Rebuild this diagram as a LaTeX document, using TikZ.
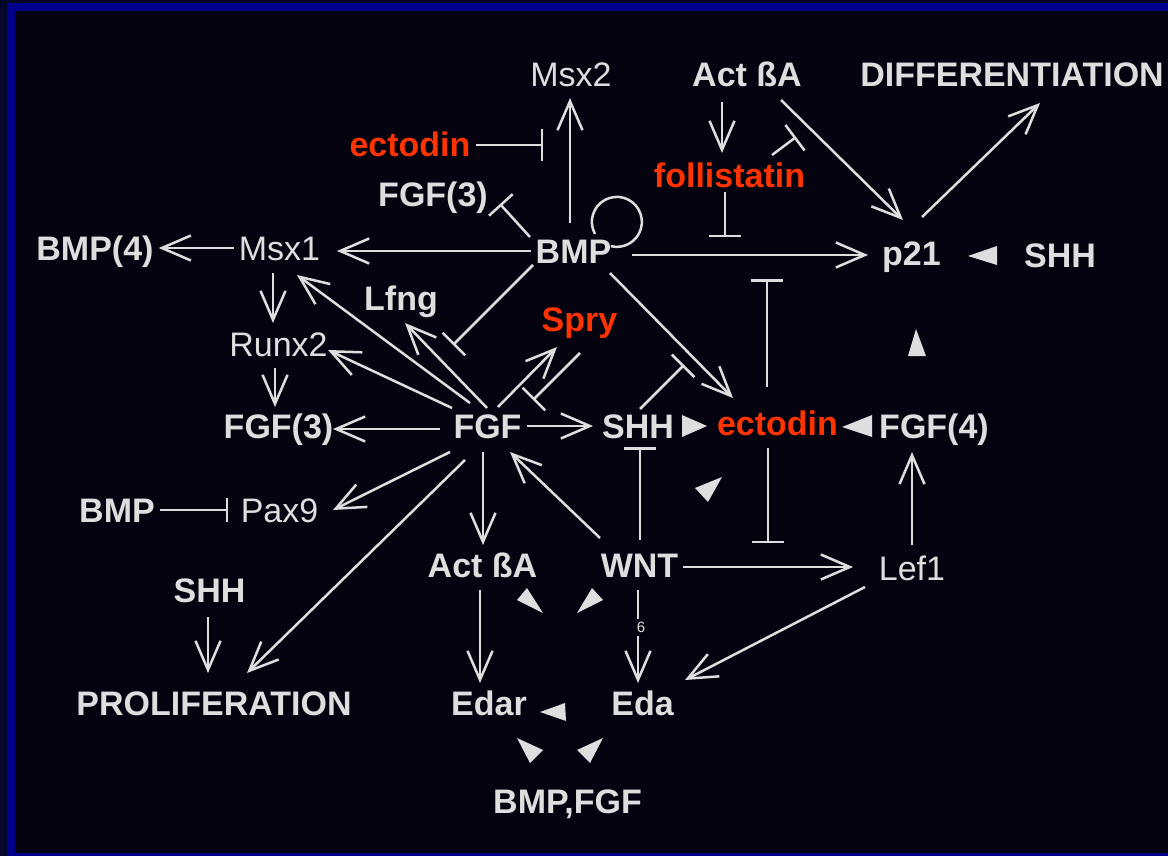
\documentclass[tikz,border=0pt]{standalone}
\usepackage{fontspec}
\setmainfont{Liberation Sans}
\usetikzlibrary{arrows.meta}

\definecolor{bgcol}{RGB}{5,3,16}
\definecolor{framecol}{RGB}{0,0,140}
\definecolor{outercol}{RGB}{6,6,40}
\definecolor{fgcol}{RGB}{222,222,222}
\definecolor{redcol}{RGB}{255,51,0}

\tikzset{
    gene/.style={anchor=base, text=fgcol, inner sep=5pt, text height=24pt, text depth=0pt,
        font=\fontsize{34}{40}\selectfont},
    bgene/.style={gene, font=\fontsize{34}{40}\selectfont\bfseries},
    rgene/.style={bgene, text=redcol},
    link/.style={draw=fgcol, line width=2.5pt},
    act/.style={link, -{Straight Barb[length=29pt, width=25pt]}},
    inh/.style={link, -{Bar[width=32pt]}},
}

\begin{document}
\begin{tikzpicture}[x=1pt, y=-1pt]
    % frame and background
    \fill[outercol] (0,0) rectangle (1168,856);
    \fill[framecol] (7,3) rectangle (1168,856);
    \fill[bgcol] (15,11) rectangle (1168,853);
    \useasboundingbox (0,0) rectangle (1168,856);

    % genes
    \node[gene]  (msxtwo)  at (571,87)     {Msx2};
    \node[bgene] (actA)    at (747,87)     {Act ßA};
    \node[bgene] (diff)    at (1012,87)    {DIFFERENTIATION};
    \node[rgene] (ectop)   at (410,157)    {ectodin};
    \node[rgene] (folli)   at (729.5,187)  {follistatin};
    \node[bgene] (fgfup)   at (433,207)    {FGF(3)};
    \node[bgene] (bmpfour) at (95,260)     {BMP(4)};
    \node[gene]  (msxone)  at (279.5,260)  {Msx1};
    \node[bgene] (bmp)     at (573.5,263)  {BMP};
    \node[bgene] (ptwoone) at (911.5,265)  {p21};
    \node[bgene] (shhr)    at (1060,267)   {SHH};
    \node[bgene] (lfng)    at (401,310)    {Lfng};
    \node[gene]  (runx)    at (278.5,356)  {Runx2};
    \node[rgene] (spry)    at (579.5,331)  {Spry};
    \node[bgene] (fgfmid)  at (278.5,438)  {FGF(3)};
    \node[bgene] (fgf)     at (487.5,438)  {FGF};
    \node[bgene] (shhm)    at (638,438)    {SHH};
    \node[rgene] (ectom)   at (777.5,435)  {ectodin};
    \node[bgene] (fgffour) at (934,438)    {FGF(4)};
    \node[bgene] (bmpl)    at (117,522)    {BMP};
    \node[gene]  (pax)     at (279.5,522)  {Pax9};
    \node[bgene] (shhl)    at (209.5,602)  {SHH};
    \node[bgene] (actB)    at (482.5,577)  {Act ßA};
    \node[bgene] (wnt)     at (639.5,577)  {WNT};
    \node[gene]  (lef)     at (912,580)    {Lef1};
    \node[bgene] (prolif)  at (214,715)    {PROLIFERATION};
    \node[bgene] (edar)    at (489,715)    {Edar};
    \node[bgene] (eda)     at (642.5,715)  {Eda};
    \node[bgene] (bmpfgf)  at (567.5,813)  {BMP,FGF};

    % ends of inhibitions that stop on another connector
    \coordinate (ectobar) at (543,145);
    \coordinate (follbar) at (725,237);
    \coordinate (actbar)  at (796,137);
    \coordinate (ptbar)   at (767,279);
    \coordinate (lefbar)  at (768,543);
    \coordinate (shhbar)  at (684,365);
    \coordinate (lfngbar) at (453,345);

    % BMP
    \draw[act] ([shift={(-3.5,-28)}]bmp.center) -- ([shift={(-1,23)}]msxtwo.center);
    \draw[inh] (ectop.east) -- (ectobar);
    \draw[inh] ([shift={(-43.5,-14)}]bmp.center) -- ([shift={(67,9)}]fgfup.center);
    \draw[link] ([shift={(21.5,-17)}]bmp.center) arc[start angle=151, end angle=464, radius=25];
    \draw[act] (bmp.west) -- ([shift={(57.5,3)}]msxone.center);
    \draw[act] (msxone.west) -- (bmpfour.east);
    \draw[act] ([shift={(58.5,4)}]bmp.center) -- ([shift={(-43.5,2)}]ptwoone.center);
    \draw[act] ([shift={(36.5,22)}]bmp.center) -- ([shift={(-44.5,-25)}]ectom.center);
    \draw[inh] ([shift={(-40.5,14)}]bmp.center) -- (lfngbar);

    % Act/follistatin/p21
    \draw[inh] (folli.south -| follbar) -- (follbar);
    \draw[act] ([shift={(-25,27)}]actA.center) -- ([shift={(-7.5,-22)}]folli.center);
    \draw[inh] ([shift={(42.5,-20)}]folli.center) -- (actbar);
    \draw[act] ([shift={(34,25)}]actA.center) -- ([shift={(-8.5,-33)}]ptwoone.center);
    \draw[act] ([shift={(10.5,-36)}]ptwoone.center) -- ([shift={(28,28)}]diff.center);

    % ectodin
    \draw[inh] ([shift={(-10.5,-36)}]ectom.center) -- (ptbar);
    \draw[inh] ([shift={(-9.5,25)}]ectom.center) -- (lefbar);
    \draw[inh] ([shift={(2,-17)}]shhm.center) -- (shhbar);

    % FGF
    \draw[act] ([shift={(-17.5,-23)}]fgf.center) -- ([shift={(17.5,27)}]msxone.center);
    \draw[act] ([shift={(-6.5,25)}]msxone.center) -- ([shift={(-5.5,-21)}]runx.center);
    \draw[act] ([shift={(-3.5,24)}]runx.center) -- ([shift={(-3.5,-19)}]fgfmid.center);
    \draw[act] ([shift={(-47.5,3)}]fgf.center) -- ([shift={(54.5,3)}]fgfmid.center);
    \draw[act] ([shift={(-35.5,-18)}]fgf.center) -- ([shift={(49.5,6)}]runx.center);
    \draw[act] ([shift={(-0.5,-18)}]fgf.center) -- ([shift={(4,25)}]lfng.center);
    \draw[act] ([shift={(10.5,-19)}]fgf.center) -- ([shift={(-22.5,28)}]spry.center);
    \draw[inh] ([shift={(0.5,34)}]spry.center) -- ([shift={(45.5,-26)}]fgf.center);
    \draw[act] (fgf.east) -- ([shift={(-45,0)}]shhm.center);
    \draw[act] ([shift={(-37.5,26)}]fgf.center) -- ([shift={(53.5,0)}]pax.center);
    \draw[act] ([shift={(-22.5,34)}]fgf.center) -- ([shift={(33,-30)}]prolif.center);
    \draw[act] ([shift={(-4.5,26)}]fgf.center) -- ([shift={(0.5,-20)}]actB.center);

    % WNT and Lef1
    \draw[act] ([shift={(-39.5,-27)}]wnt.center) -- ([shift={(22.5,26)}]fgf.center);
    \draw[inh] ([shift={(0.5,-25)}]wnt.center) -- ([shift={(2,21)}]shhm.center);
    \draw[act] ([shift={(43.5,2)}]wnt.center) -- ([shift={(-59,-1)}]lef.center);
    \draw[act] ([shift={(0,-23)}]lef.center) -- ([shift={(-22,26)}]fgffour.center);
    \draw[act] ([shift={(-47,19)}]lef.center) -- ([shift={(42.5,-23)}]eda.center);
    \draw[act] ([shift={(-2.5,25)}]actB.center) -- ([shift={(-9,-20)}]edar.center);
    \draw[act] ([shift={(-1.5,25)}]wnt.center) --
        node[pos=0.4, xshift=3pt, fill=bgcol, text=fgcol, inner sep=3pt,
             font=\fontsize{15}{15}\selectfont] (six) {6}
        ([shift={(-4.5,-20)}]eda.center);

    % left side
    \draw[link, -{Bar[width=24pt]}] (bmpl.east) -- ([shift={(-51.5,0)}]pax.center);
    \draw[act] ([shift={(-1.5,27)}]shhl.center) -- ([shift={(-6,-30)}]prolif.center);

    % loose arrow heads
    \foreach \a/\b/\c in {{968,256}/{997,246}/{997,265}, {916,329}/{908,356}/{926,356},
        {707,426}/{682,415}/{682,437}, {842,427}/{872,415}/{872,437},
        {722,477}/{695,488}/{708,502}, {527,588}/{517,600}/{543,613},
        {592,588}/{603,600}/{577,613}, {540,712}/{565,703}/{566,721},
        {517,738}/{543,750}/{530,763}, {603,738}/{577,750}/{590,763}}
    \fill[fgcol] (\a) -- (\b) -- (\c) -- cycle;
\end{tikzpicture}
\end{document}
